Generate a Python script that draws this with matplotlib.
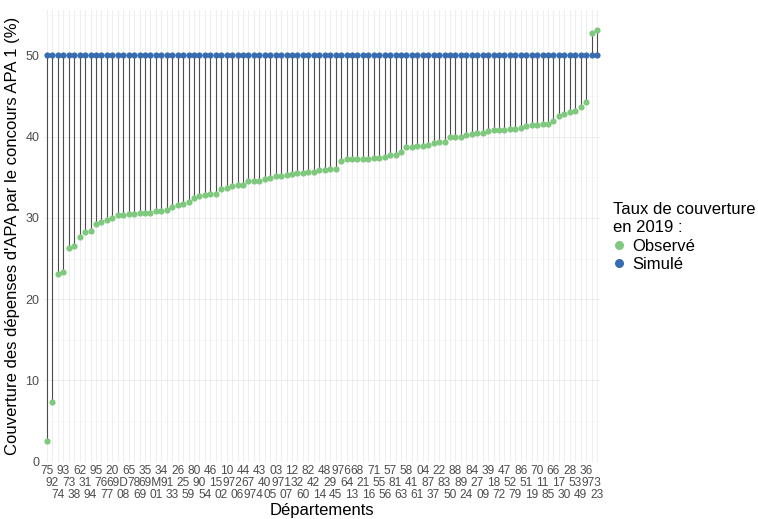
import matplotlib
matplotlib.use("Agg")
import matplotlib.pyplot as plt
import matplotlib.transforms as mtransforms
from matplotlib.lines import Line2D
import numpy as np

plt.rcParams['font.family'] = ['Liberation Sans', 'DejaVu Sans']

departements = [
    "75", "92", "74", "93", "73", "38", "62", "31", "94", "95", "76", "77", "20",
    "69D", "08", "65", "78", "69", "35", "69M", "01", "34", "91", "33", "26", "25",
    "59", "80", "90", "54", "46", "15", "02", "10", "972", "06", "44", "67", "974",
    "43", "40", "05", "03", "971", "07", "12", "32", "60", "82", "42", "14", "48",
    "29", "45", "976", "64", "13", "68", "21", "16", "71", "55", "56", "57", "81",
    "63", "58", "41", "61", "04", "87", "37", "22", "83", "50", "88", "89", "24",
    "84", "27", "09", "39", "18", "72", "47", "52", "79", "86", "51", "19", "70",
    "11", "85", "66", "17", "30", "28", "53", "49", "36", "973", "23",
]

observe = [
    2.5, 7.3, 23.1, 23.3, 26.3, 26.6, 27.7, 28.3, 28.4, 29.2, 29.5, 29.8, 30.0,
    30.4, 30.4, 30.5, 30.5, 30.6, 30.6, 30.6, 30.8, 30.9, 31.0, 31.4, 31.6, 31.7,
    31.9, 32.4, 32.7, 32.8, 32.9, 32.9,
    33.6, 33.7, 33.9, 34.0, 34.1, 34.5, 34.6, 34.6, 34.8, 34.9, 35.1, 35.2, 35.3,
    35.4, 35.5, 35.5, 35.7, 35.7, 35.9, 35.9, 36.0, 36.0,
    37.0, 37.2, 37.3, 37.3, 37.3, 37.3, 37.4, 37.4, 37.5, 37.7, 37.8, 38.1, 38.7,
    38.7, 38.8, 38.9, 39.0, 39.2, 39.3, 39.4, 39.9, 40.0, 40.0, 40.2, 40.3, 40.4,
    40.5, 40.7, 40.8, 40.8, 40.8, 40.9, 40.9, 41.1, 41.3, 41.4, 41.4, 41.5, 41.6,
    41.9, 42.6, 42.8, 43.0, 43.1, 43.6, 44.3,
    52.8, 53.1,
]

simule = [
    50.0, 50.0, 50.0, 50.0, 50.0, 50.0, 50.0, 50.0, 50.0, 50.0, 50.0, 50.0, 50.0,
    50.0, 50.0, 50.0, 50.0, 50.0, 50.0, 50.0, 50.0, 50.0, 50.0, 50.0, 50.0, 50.0,
    50.0, 50.0, 50.0, 50.0, 50.0, 50.0, 50.0, 50.0, 50.0, 50.0, 50.0, 50.0, 50.0,
    50.0, 50.0, 50.0, 50.0, 50.0, 50.0, 50.0, 50.0, 50.0, 50.0, 50.0, 50.0, 50.0,
    50.0, 50.0, 50.0, 50.0, 50.0, 50.0, 50.0, 50.0, 50.0, 50.0, 50.0, 50.0, 50.0,
    50.0, 50.0, 50.0, 50.0, 50.0, 50.0, 50.0, 50.0, 50.0, 50.0, 50.0, 50.0, 50.0,
    50.0, 50.0, 50.0, 50.0, 50.0, 50.0, 50.0, 50.0, 50.0, 50.0, 50.0, 50.0, 50.0,
    50.0, 50.0, 50.0, 50.0, 50.0, 50.0, 50.0, 50.0, 50.0, 50.0, 50.0,
]

couleur_obs = "#7FC97F"
couleur_sim = "#386CB0"

fig = plt.figure(figsize=(7.58, 5.19), dpi=100)
ax = fig.add_axes([43.7 / 758, 1 - 462 / 519, (600.3 - 43.7) / 758, (462 - 9.6) / 519])

x = np.arange(len(departements))
obs = np.array(observe)
sim = np.array(simule)

# grid (theme_minimal style)
for xi in x:
    ax.axvline(xi, color="#EBEBEB", lw=0.6, zorder=0)
for yv in range(0, 56, 10):
    ax.axhline(yv, color="#EBEBEB", lw=0.6, zorder=0)
for yv in range(5, 56, 10):
    ax.axhline(yv, color="#F4F4F4", lw=0.4, zorder=0)

# segments between observed and simulated
ax.vlines(x, obs, sim, color="#3a3a3a", lw=0.8, alpha=0.9, zorder=2)
ax.scatter(x, obs, s=20, color=couleur_obs, zorder=3, linewidths=0)
ax.scatter(x, sim, s=20, color=couleur_sim, zorder=4, linewidths=0)

rng = max(obs.max(), sim.max()) - min(obs.min(), sim.min())
ax.set_ylim(min(obs.min(), sim.min()) - 0.05 * rng, max(obs.max(), sim.max()) + 0.05 * rng)
ax.set_xlim(-0.6, len(departements) - 1 + 0.6)

ax.set_yticks(range(0, 51, 10))
ax.tick_params(axis="y", length=0, pad=3, labelsize=9, labelcolor="#4D4D4D")

# department codes dodged on three rows
ax.set_xticks([])
base = mtransforms.blended_transform_factory(ax.transData, ax.transAxes)
for i, d in enumerate(departements):
    row = i % 3
    tr = base + mtransforms.ScaledTranslation(0, -(0.03 + 0.12 * row), fig.dpi_scale_trans)
    ax.text(i, 0, d, transform=tr, ha="center", va="top", fontsize=8.6, color="#4D4D4D")

for s in ax.spines.values():
    s.set_visible(False)

fig.text(322 / 758, 1 - 510 / 519, "Départements", ha="center", va="center", fontsize=12)
ax.set_ylabel("Couverture des dépenses d'APA par le concours APA 1 (%)", fontsize=12, labelpad=4)

handles = [
    Line2D([], [], marker="o", ls="", color=couleur_obs, markersize=6.5, markeredgewidth=0),
    Line2D([], [], marker="o", ls="", color=couleur_sim, markersize=6.5, markeredgewidth=0),
]
leg = fig.legend(handles, ["Observé", "Simulé"], title="Taux de couverture\nen 2019 :",
                 loc="center left", bbox_to_anchor=(606 / 758, 1 - 237 / 519),
                 frameon=False, fontsize=12, title_fontsize=12,
                 handlelength=0.8, handletextpad=0.4, labelspacing=0.2, borderaxespad=0)
leg._legend_box.align = "left"
leg.get_title().set_linespacing(1.3)

fig.savefig("out.png", dpi=100)
